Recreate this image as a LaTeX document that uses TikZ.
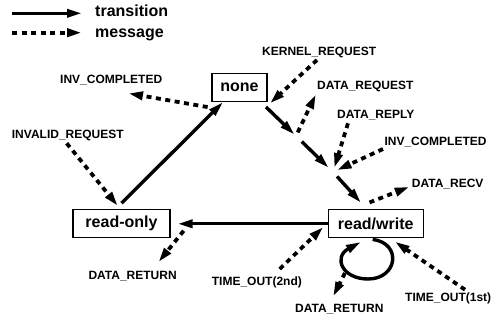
\documentclass[tikz,border=0pt]{standalone}
\usepackage{fontspec}
\setmainfont{Liberation Sans}
\usetikzlibrary{arrows.meta}
\begin{document}
\begin{tikzpicture}[x=1pt,y=-1pt,
  state/.style={draw,line width=1.3pt,minimum height=28pt,inner sep=0pt,
    font=\fontsize{16}{18}\selectfont\bfseries},
  lbl/.style={anchor=base west,inner sep=0pt,font=\fontsize{12}{14}\selectfont\bfseries},
  legendtext/.style={anchor=base west,inner sep=0pt,font=\fontsize{16}{18}\selectfont\bfseries},
  tip/.style={-{Triangle[length=15pt,width=8pt]}},
  trans/.style={tip,line width=3.4pt},
  msg/.style={tip,line width=3.8pt,dash pattern=on 5pt off 4.5pt},
]
\useasboundingbox (0,0) rectangle (503,320);

% legend
\coordinate (lt0) at (12,13.3);
\coordinate (lt1) at (82,13.3);
\coordinate (lm0) at (12,32.7);
\coordinate (lm1) at (82,32.7);
\draw[trans] (lt0) -- (lt1);
\draw[msg] (lm0) -- (lm1);
\node[legendtext] (ltr) at (95,16.7) {transition};
\node[legendtext] (lms) at (95,37.3) {message};

% states
\node[state,minimum width=55pt] (none) at (239.5,87.5) {none};
\node[state,minimum width=97pt] (ro) at (121.5,223.8) {read-only};
\node[state,minimum width=95pt] (rw) at (375.7,223.8) {read/write};

% message labels
\node[lbl] (kreq)  at (262,56)      {KERNEL\_REQUEST};
\node[lbl] (dreq)  at (317,90)      {DATA\_REQUEST};
\node[lbl] (drep)  at (337,118.3)   {DATA\_REPLY};
\node[lbl] (icr)   at (384.3,146)   {INV\_COMPLETED};
\node[lbl] (drecv) at (411.7,187.7) {DATA\_RECV};
\node[lbl] (icl)   at (60,83.3)     {INV\_COMPLETED};
\node[lbl] (ireq)  at (11.7,138.3)  {INVALID\_REQUEST};
\node[lbl] (drl)   at (88.3,279.3)  {DATA\_RETURN};
\node[lbl] (to2)   at (211.7,286)   {TIME\_OUT(2nd)};
\node[lbl] (drb)   at (295,312.7)   {DATA\_RETURN};
\node[lbl] (to1)   at (405,301.7)   {TIME\_OUT(1st)};

% transition chain none -> read/write
\coordinate (t0) at (266,107);
\coordinate (t1) at (296,136);
\coordinate (t2) at (333,172);
\coordinate (t3) at (363,205);
\draw[trans,shorten >=2pt] (t0) -- (t1);
\draw[trans,shorten <=8pt,shorten >=6pt] (t1) -- (t2);
\draw[trans,shorten <=6pt,shorten >=3pt] (t2) -- (t3);

% read-only -> none
\coordinate (tn) at ([xshift=-16.5pt]none.south);
\draw[trans] ([yshift=6pt]ro.north) -- coordinate[pos=0.936] (ticl) (tn);

% read/write -> read-only
\draw[trans,shorten >=7pt] (rw.west) -- (rw.west -| ro.east);

% read/write self loop
\draw[trans] ([xshift=-3pt,yshift=-1pt]rw.south)
  .. controls (402,243) and (398,279) .. (368,279)
  .. controls (342,279) and (333,257) .. coordinate[pos=0.4] (lp) (361,242);

% messages
\draw[msg,shorten >=5pt] ([shift={(55,4)}]kreq.base west) -- (t0);
\draw[msg,shorten <=4pt] (t1) -- ([shift={(-1,4)}]dreq.base west);
\draw[msg,shorten >=4pt] ([shift={(11,5)}]drep.base west) -- (t2);
\draw[msg,shorten >=4pt] ([shift={(-1.3,3)}]icr.base west) -- (t2);
\draw[msg,shorten <=7pt] (t3) -- ([shift={(-2,-1)}]drecv.base west);
\draw[msg,shorten <=9pt] (ticl) -- ([shift={(68,10)}]icl.base west);
\draw[msg] ([shift={(55,5)}]ireq.base west) -- ([shift={(-3.5,-3)}]ro.north);
\draw[msg] ([shift={(13,7)}]ro.east) -- ([shift={(70,-17)}]drl.base west);
\draw[msg] ([shift={(68,-17)}]to2.base west) -- ([shift={(-4,3)}]rw.west);
\draw[msg] ([shift={(60,-12)}]to1.base west) -- ([shift={(19,3)}]rw.south);
\draw[msg,shorten <=3pt] (lp) -- ([shift={(38,-16)}]drb.base west);
\end{tikzpicture}
\end{document}
